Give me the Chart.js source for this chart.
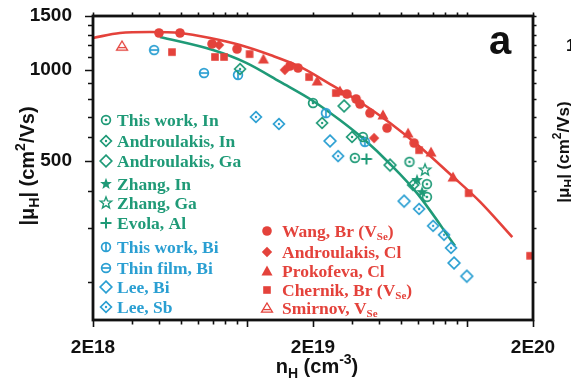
<!DOCTYPE html>
<html>
<head>
<meta charset="utf-8">
<script src="https://cdn.jsdelivr.net/npm/chart.js@4/dist/chart.umd.min.js"></script>
<style>
  html, body { margin: 0; padding: 0; background: #fff; }
  #wrap { width: 571px; height: 380px; }
</style>
</head>
<body>
<div id="wrap"><canvas id="c" width="571" height="380"></canvas></div>
<script>
// Hall mobility |mu_H| versus Hall carrier density n_H (log-log).

// ---- tick values ----
const xTickValues = [2e18, 3e18, 4e18, 5e18, 6e18, 7e18, 8e18, 9e18, 1e19,
                     2e19, 3e19, 4e19, 5e19, 6e19, 7e19, 8e19, 9e19, 1e20, 2e20];
const xTickLabels = { 2e18: '2E18', 2e19: '2E19', 2e20: '2E20' };
const xMajorTicks = [2e18, 1e19, 2e19, 1e20, 2e20];
const yTickValues = [200, 300, 400, 500, 600, 700, 800, 900, 1000,
                     1100, 1200, 1300, 1400, 1500];
const yTickLabels = { 500: '500', 1000: '1000', 1500: '1500' };
const yMajorTicks = [500, 1000, 1500];

// ---- measured series: [n_H (cm^-3), |mu_H| (cm^2/Vs)] ----
const wangBr = [[3.99e18,1319],[4.97e18,1319],[6.95e18,1214],[9.03e18,1168],[1.57e19,1027],
                [1.71e19,1012],[2.85e19,831],[3.14e19,800],[3.27e19,770],[3.63e19,719],
                [4.34e19,642],[5.76e19,573]];
const androulakisCl = [[7.48e18,1204],[1.49e19,997],[3.79e19,595]];
const prokofevaCl = [[1.19e19,1083],[2.09e19,917],[2.65e19,850],[4.16e19,709],[5.41e19,618],
                     [6.88e19,535],[8.66e19,443]];
const chernikBr = [[4.57e18,1141],[7.17e18,1100],[7.88e18,1100],[1.03e19,1124],[1.92e19,945],
                   [2.54e19,837],[6.07e19,543],[1.02e20,392],[1.94e20,244]];
const smirnovVSe = [[2.71e18,1195]];

const thisWorkIn = [[2.0e19,776],[3.37e19,600],[3.10e19,512],[5.49e19,497],[6.59e19,420],[6.59e19,381]];
const androulakisIn = [[9.32e18,1004],[2.20e19,667],[3.01e19,600],[5.70e19,417]];
const androulakisGa = [[2.77e19,759],[4.48e19,485]];
const zhangIn = [[5.94e19,433],[6.26e19,395]];
const zhangGa = [[6.46e19,467]];
const evolaAl = [[3.50e19,508]];

const thisWorkBi = [[9.12e18,960],[2.29e19,719],[3.44e19,578]];
const thinFilmBi = [[3.79e18,1159],[6.39e18,974]];
const leeBi = [[2.39e19,582],[5.19e19,369],[8.75e19,231],[1.00e20,209]];
const leeSb = [[1.10e19,698],[1.40e19,662],[2.60e19,519],[6.07e19,348],[7.03e19,306],
               [7.88e19,286],[8.48e19,259]];

// ---- model curves ----
const curveRed = [[2.0e18,1270],[2.65e18,1319],[3.63e18,1329],[4.97e18,1319],[6.81e18,1270],
                  [9.32e18,1204],[1.28e19,1116],[1.75e19,1020],[2.39e19,896],[3.27e19,782],
                  [4.48e19,667],[6.13e19,556],[8.39e19,453],[1.15e20,367],[1.61e20,281]];
const curveGreen = [[4.03e18,1280],[7.02e18,1159],[1.0e19,1050],[1.42e19,910],[2.0e19,788],
                    [2.65e19,682],[3.44e19,586],[4.48e19,489],[5.94e19,392],[8.84e19,263]];

const RED = '#e4423b', GREEN = '#1f9a77', BLUE = '#2a9fd2';

// ---- marker glyphs ----
function starPath(ctx, cx, cy, ro, ri) {
  ctx.beginPath();
  for (let i = 0; i < 10; i++) {
    const r = i % 2 ? ri : ro;
    const a = -Math.PI / 2 + i * Math.PI / 5;
    const px = cx + r * Math.cos(a), py = cy + r * Math.sin(a);
    i ? ctx.lineTo(px, py) : ctx.moveTo(px, py);
  }
  ctx.closePath();
}
function diamondPath(ctx, cx, cy, r) {
  ctx.beginPath();
  ctx.moveTo(cx, cy - r); ctx.lineTo(cx + r, cy); ctx.lineTo(cx, cy + r); ctx.lineTo(cx - r, cy);
  ctx.closePath();
}
function drawMarker(ctx, kind, color, cx, cy) {
  ctx.save();
  ctx.strokeStyle = color; ctx.fillStyle = color; ctx.lineWidth = 1.7;
  switch (kind) {
    case 'disc':
      ctx.beginPath(); ctx.arc(cx, cy, 4.8, 0, Math.PI * 2); ctx.fill(); break;
    case 'diamondFill':
      diamondPath(ctx, cx, cy, 5.2); ctx.fill(); break;
    case 'triFill':
      ctx.beginPath(); ctx.moveTo(cx, cy - 5.5); ctx.lineTo(cx + 5.5, cy + 4.5); ctx.lineTo(cx - 5.5, cy + 4.5);
      ctx.closePath(); ctx.fill(); break;
    case 'square':
      ctx.fillRect(cx - 3.8, cy - 3.8, 7.6, 7.6); break;
    case 'triOpenBar':
      ctx.lineWidth = 1.3;
      ctx.beginPath(); ctx.moveTo(cx, cy - 5); ctx.lineTo(cx + 5.5, cy + 4.2); ctx.lineTo(cx - 5.5, cy + 4.2);
      ctx.closePath(); ctx.stroke();
      ctx.beginPath(); ctx.moveTo(cx - 3.8, cy + 1.6); ctx.lineTo(cx + 3.8, cy + 1.6); ctx.stroke(); break;
    case 'ringDot':
      ctx.beginPath(); ctx.arc(cx, cy, 4.4, 0, Math.PI * 2); ctx.stroke();
      ctx.beginPath(); ctx.arc(cx, cy, 1.3, 0, Math.PI * 2); ctx.fill(); break;
    case 'ringV':
      ctx.beginPath(); ctx.arc(cx, cy, 4.4, 0, Math.PI * 2); ctx.stroke();
      ctx.beginPath(); ctx.moveTo(cx, cy - 4.4); ctx.lineTo(cx, cy + 4.4); ctx.stroke(); break;
    case 'ringH':
      ctx.beginPath(); ctx.arc(cx, cy, 4.4, 0, Math.PI * 2); ctx.stroke();
      ctx.beginPath(); ctx.moveTo(cx - 4.4, cy); ctx.lineTo(cx + 4.4, cy); ctx.stroke(); break;
    case 'diamondDot':
      diamondPath(ctx, cx, cy, 5.4); ctx.stroke();
      ctx.beginPath(); ctx.arc(cx, cy, 1.2, 0, Math.PI * 2); ctx.fill(); break;
    case 'diamond':
      diamondPath(ctx, cx, cy, 5.8); ctx.stroke(); break;
    case 'starFill':
      starPath(ctx, cx, cy, 6.2, 2.6); ctx.fill(); break;
    case 'starOpen':
      ctx.lineWidth = 1.4; starPath(ctx, cx, cy, 6, 2.6); ctx.stroke(); break;
    case 'plus':
      ctx.lineWidth = 2;
      ctx.beginPath(); ctx.moveTo(cx - 5.5, cy); ctx.lineTo(cx + 5.5, cy);
      ctx.moveTo(cx, cy - 5.5); ctx.lineTo(cx, cy + 5.5); ctx.stroke(); break;
  }
  ctx.restore();
}
function markerCanvas(kind, color) {
  const c = document.createElement('canvas');
  c.width = 16; c.height = 16;
  drawMarker(c.getContext('2d'), kind, color, 8, 8);
  return c;
}

// ---- series table ----
const series = [
  { label: 'This work, In',    data: thisWorkIn,    kind: 'ringDot',     color: GREEN },
  { label: 'Androulakis, In',  data: androulakisIn, kind: 'diamondDot',  color: GREEN },
  { label: 'Androulakis, Ga',  data: androulakisGa, kind: 'diamond',     color: GREEN },
  { label: 'Zhang, In',        data: zhangIn,       kind: 'starFill',    color: GREEN },
  { label: 'Zhang, Ga',        data: zhangGa,       kind: 'starOpen',    color: GREEN },
  { label: 'Evola, Al',        data: evolaAl,       kind: 'plus',        color: GREEN },
  { label: 'This work, Bi',    data: thisWorkBi,    kind: 'ringV',       color: BLUE },
  { label: 'Thin film, Bi',    data: thinFilmBi,    kind: 'ringH',       color: BLUE },
  { label: 'Lee, Bi',          data: leeBi,         kind: 'diamond',     color: BLUE },
  { label: 'Lee, Sb',          data: leeSb,         kind: 'diamondDot',  color: BLUE },
  { label: ['Wang, Br (V', 'Se', ')'],    data: wangBr,        kind: 'disc',        color: RED },
  { label: ['Androulakis, Cl'],           data: androulakisCl, kind: 'diamondFill', color: RED },
  { label: ['Prokofeva, Cl'],             data: prokofevaCl,   kind: 'triFill',     color: RED },
  { label: ['Chernik, Br (V', 'Se', ')'], data: chernikBr,     kind: 'square',      color: RED },
  { label: ['Smirnov, V', 'Se', ''],      data: smirnovVSe,    kind: 'triOpenBar',  color: RED }
];

const toXY = arr => arr.map(([x, y]) => ({ x, y }));

const datasets = [
  { data: toXY(curveRed), showLine: true, borderColor: RED, borderWidth: 2.6, pointRadius: 0,
    cubicInterpolationMode: 'monotone', order: 10 },
  { data: toXY(curveGreen), showLine: true, borderColor: GREEN, borderWidth: 2.6, pointRadius: 0,
    cubicInterpolationMode: 'monotone', order: 10 }
];
series.forEach(s => {
  datasets.push({
    data: toXY(s.data),
    pointStyle: markerCanvas(s.kind, s.color),
    pointRadius: 5,
    showLine: false,
    order: 0
  });
});

// ---- frame, tick marks, titles and key ----
const decor = {
  id: 'decor',
  afterDatasetsDraw(chart) {
    const { ctx, chartArea: a, scales } = chart;
    const xs = scales.x, ys = scales.y;
    ctx.save();
    ctx.strokeStyle = '#111';
    ctx.lineWidth = 1.6;
    ctx.beginPath();
    xTickValues.forEach(v => {
      const px = Math.round(xs.getPixelForValue(v)) + 0.5;
      const L = xMajorTicks.includes(v) ? 7 : 4.5;
      ctx.moveTo(px, a.bottom); ctx.lineTo(px, a.bottom + L);
      ctx.moveTo(px, a.top); ctx.lineTo(px, a.top - 3.5);
    });
    yTickValues.forEach(v => {
      const py = Math.round(ys.getPixelForValue(v)) + 0.5;
      const L = yMajorTicks.includes(v) ? 8 : 5;
      ctx.moveTo(a.left, py); ctx.lineTo(a.left - L, py);
      ctx.moveTo(a.right, py); ctx.lineTo(a.right + 3.5, py);
    });
    ctx.stroke();
    ctx.lineWidth = 2.8;
    ctx.strokeRect(a.left, a.top, a.right - a.left, a.bottom - a.top);
    ctx.restore();
  },
  afterDraw(chart) {
    const { ctx } = chart;
    ctx.save();
    ctx.fillStyle = '#111';
    ctx.textBaseline = 'alphabetic';

    // runs of [text, font, dy]
    function runs(parts, x, y, align) {
      let w = 0;
      parts.forEach(p => { ctx.font = p[1]; w += ctx.measureText(p[0]).width; });
      let cx = align === 'center' ? x - w / 2 : x;
      parts.forEach(p => {
        ctx.font = p[1];
        ctx.textAlign = 'left';
        ctx.fillText(p[0], cx, y + (p[2] || 0));
        cx += ctx.measureText(p[0]).width;
      });
    }
    const SB = 'bold 20px "Liberation Sans", Arial, sans-serif';
    const SBs = 'bold 14px "Liberation Sans", Arial, sans-serif';

    // x-axis title
    runs([['n', SB], ['H', SBs, 5], [' (cm', SB], ['-3', SBs, -9], [')', SB]], 317, 373, 'center');

    // y-axis title
    ctx.save();
    ctx.translate(34, 166);
    ctx.rotate(-Math.PI / 2);
    runs([['|\u03bc', SB], ['H', SBs, 5], ['| (cm', SB], ['2', SBs, -9], ['/Vs)', SB]], 0, 0, 'center');
    ctx.restore();

    // panel letter
    ctx.font = 'bold 40px "Liberation Sans", Arial, sans-serif';
    ctx.textAlign = 'center';
    ctx.fillText('a', 500, 54);

    // neighbouring panel edge
    ctx.font = 'bold 17px "Liberation Sans", Arial, sans-serif';
    ctx.textAlign = 'left';
    ctx.fillText('1', 566, 51);
    ctx.save();
    ctx.translate(569, 152);
    ctx.rotate(-Math.PI / 2);
    const S2 = 'bold 17px "Liberation Sans", Arial, sans-serif';
    const S2s = 'bold 12px "Liberation Sans", Arial, sans-serif';
    runs([['|\u03bc', S2], ['H', S2s, 4], ['| (cm', S2], ['2', S2s, -8], ['/Vs)', S2]], 0, 0, 'center');
    ctx.restore();

    // key
    const LF = 'bold 17.5px "Liberation Serif", "Times New Roman", serif';
    const LFs = 'bold 11px "Liberation Serif", "Times New Roman", serif';
    const leftRows = [120, 141, 161, 184, 203, 223, 247, 268, 287, 307];
    const rightRows = [231, 252, 271, 290, 308];
    series.forEach((s, i) => {
      ctx.fillStyle = s.color;
      if (i < 10) {
        const y = leftRows[i];
        drawMarker(ctx, s.kind, s.color, 106, y);
        runs([[s.label, LF]], 117, y + 6, 'left');
      } else {
        const y = rightRows[i - 10];
        drawMarker(ctx, s.kind, s.color, 267, y);
        const lab = s.label;
        const parts = [[lab[0], LF]];
        if (lab[1]) parts.push([lab[1], LFs, 3]);
        if (lab[2]) parts.push([lab[2], LF]);
        runs(parts, 282, y + 6, 'left');
      }
    });
    ctx.restore();
  }
};

new Chart(document.getElementById('c'), {
  type: 'scatter',
  data: { datasets },
  plugins: [decor],
  options: {
    responsive: false,
    devicePixelRatio: 1,
    animation: false,
    layout: { padding: { top: 16, right: 38, left: 0, bottom: 0 } },
    plugins: { legend: { display: false }, tooltip: { enabled: false } },
    scales: {
      x: {
        type: 'logarithmic', min: 2e18, max: 2e20,
        afterBuildTicks: s => { s.ticks = xTickValues.map(v => ({ value: v })); },
        afterFit: s => { s.height = 60; s.paddingLeft = 0; s.paddingRight = 0; },
        grid: { display: false }, border: { display: false },
        ticks: {
          autoSkip: false, maxRotation: 0, padding: 8, color: '#111',
          font: { family: '"Liberation Sans", Arial, sans-serif', size: 19, weight: 'bold' },
          callback: v => xTickLabels[v] || ''
        }
      },
      y: {
        type: 'logarithmic', min: 150, max: 1500,
        afterBuildTicks: s => { s.ticks = yTickValues.map(v => ({ value: v })); },
        afterFit: s => { s.width = 93; s.paddingTop = 0; s.paddingBottom = 0; },
        grid: { display: false }, border: { display: false },
        ticks: {
          autoSkip: false, padding: 13, color: '#111',
          font: { family: '"Liberation Sans", Arial, sans-serif', size: 19, weight: 'bold' },
          callback: v => yTickLabels[v] || ''
        }
      }
    }
  }
});
</script>
</body>
</html>
